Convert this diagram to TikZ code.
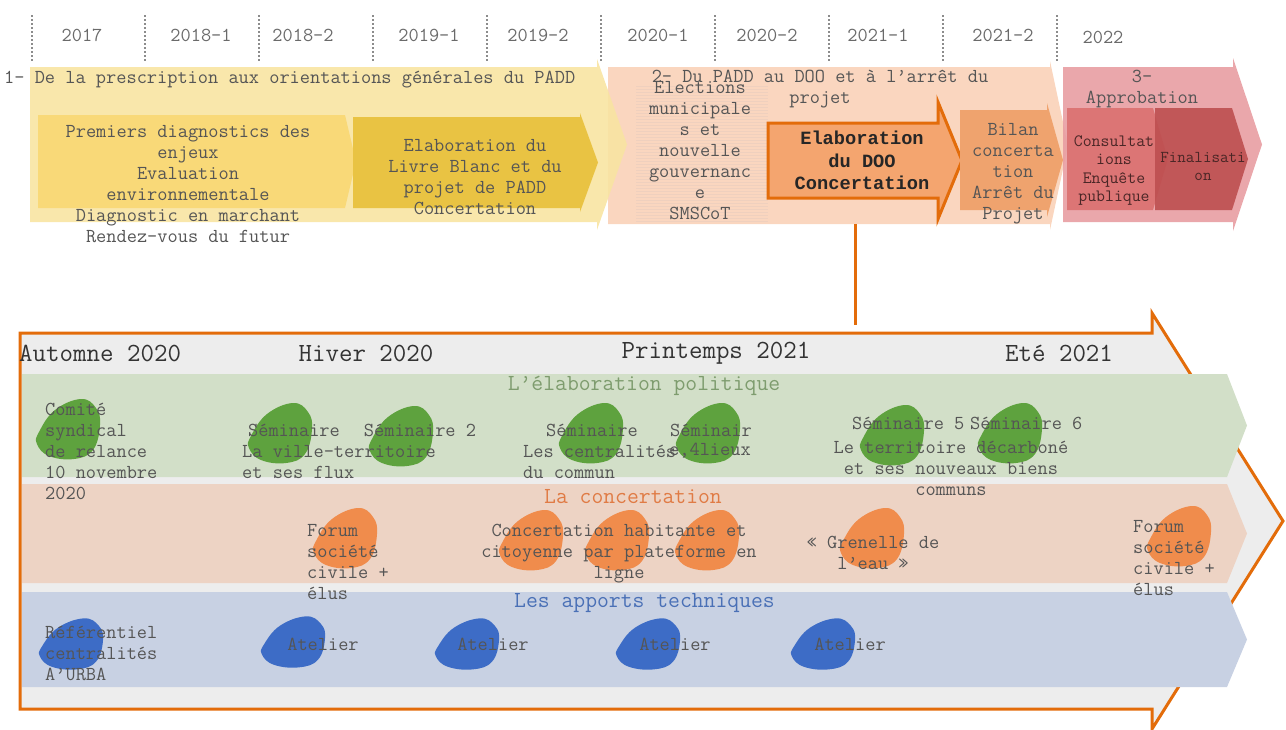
\documentclass[tikz,border=0pt]{standalone}
\usepackage{fontspec}
\renewcommand{\familydefault}{\ttdefault}
\newfontfamily\doofont{Liberation Mono}
\usetikzlibrary{positioning}

\definecolor{tickgray}{HTML}{8C8C8C}
\definecolor{yeargray}{HTML}{6A6A6A}
\definecolor{txtgray}{HTML}{555555}
\definecolor{redtxt}{HTML}{4A2626}
\definecolor{seasontxt}{HTML}{333333}
\definecolor{phaseone}{HTML}{F8E4A2}
\definecolor{phasetwo}{HTML}{FAD6BF}
\definecolor{phasethree}{HTML}{E89DA2}
\definecolor{diagyellow}{HTML}{F9D978}
\definecolor{livregold}{HTML}{E9C343}
\definecolor{dooorange}{HTML}{E36C0A}
\definecolor{doofill}{HTML}{F4A56F}
\definecolor{bilanfill}{HTML}{EFA36E}
\definecolor{consultred}{HTML}{D96D6C}
\definecolor{finalred}{HTML}{BE4F50}
\definecolor{stripecol}{HTML}{EFD0BE}
\definecolor{panelgray}{HTML}{EDEDED}
\definecolor{bandgreen}{HTML}{D2DFC8}
\definecolor{bandorange}{HTML}{EDD3C4}
\definecolor{bandblue}{HTML}{C8D1E3}
\definecolor{blobgreen}{HTML}{5EA23E}
\definecolor{bloborange}{HTML}{F08C4C}
\definecolor{blobblue}{HTML}{3D6CC6}
\definecolor{titlegreen}{HTML}{7E9C6E}
\definecolor{titleorange}{HTML}{E07B45}
\definecolor{titleblue}{HTML}{4A70B6}

% chevron: [style]{left}{top}{right}{bottom}{head extension}{tip}
\newcommand{\phasechevron}[7][]{%
  \path[#1] (#2,#3) -- (#4,#3) -- (#4,#3-#6) -- (#7,{(#3+#5)/2})
    -- (#4,#5+#6) -- (#4,#5) -- (#2,#5) -- cycle;}

% blob: {x}{y}{colour}{yscale}
\newcommand{\blob}[4]{%
  \fill[#3, shift={(#1,#2)}, yscale=#4] plot[smooth cycle, tension=0.7]
    coordinates {(12,-29) (27,-20) (31,-3) (24,22) (5,31) (-20,28) (-32,16) (-30,4) (-14,-18)};}

\begin{document}
\begin{tikzpicture}[x=1pt,y=-1pt,
  yearlbl/.style={font=\fontsize{19.8}{21}\selectfont, text=yeargray, inner sep=0pt},
  body/.style={font=\fontsize{19.8}{21}\selectfont, text=txtgray, inner sep=0pt, align=center},
  bodyl/.style={body, align=left},
  small/.style={body, font=\fontsize{17.3}{18.5}\selectfont, text=redtxt},
  season/.style={font=\fontsize{26.2}{27}\selectfont, text=seasontxt, inner sep=0pt},
  bandtitle/.style={font=\fontsize{23}{24}\selectfont, inner sep=0pt},
  tick/.style={draw=tickgray, dotted, line width=2pt},
  stripe/.style={draw=stripecol, line width=0.5pt},
  link/.style={draw=dooorange, line width=3pt},
]
\useasboundingbox (0,0) rectangle (1286,729);

% year ticks and labels
\foreach \x in {32,145,259,373,487,601,715,829,943,1057}
  \draw[tick] (\x,15) -- (\x,62);
\foreach[count=\i] \lbl/\x in {2017/82,2018-1/201,2018-2/303,2019-1/429,2019-2/538,2020-1/658,2020-2/767,2021-1/878,2021-2/1003}
  \node[yearlbl] (year\i) at (\x,35) {\lbl};
\node[yearlbl] (year10) at (1103,37) {2022};

% the three phases
\phasechevron[fill=phasetwo]{608}{67}{1050}{224}{6}{1068}
\phasechevron[fill=phaseone, opacity=0.9]{30}{67}{597}{222}{8}{627}
\phasechevron[fill=phasethree, opacity=0.9]{1063}{67}{1233}{222}{9}{1262}

% steps inside the phases
\phasechevron[fill=diagyellow]{38}{115}{345}{208}{0}{356}
\phasechevron[fill=livregold]{353}{117}{580}{208}{4}{598}
\foreach \y in {86,89,...,221}
  \draw[stripe] (636,\y) -- (768,\y);
\phasechevron[fill=doofill, draw=dooorange, line width=3pt]{768}{123}{938}{198}{21}{962}
\phasechevron[fill=bilanfill]{960}{110}{1047}{210}{7}{1063}
\phasechevron[fill=consultred, opacity=0.85]{1067}{108}{1153}{210}{0}{1168}
\phasechevron[fill=finalred, opacity=0.9]{1155}{108}{1232}{210}{0}{1248}

\node[body, anchor=west] (phase1) at (4,80) {1- De la prescription aux orientations générales du PADD};
\node[body] (phase2) at (820,89) {2- Du PADD au DOO et à l’arrêt du\\projet};
\node[body] (phase3) at (1142,89) {3-\\Approbation};
\node[body] (diag) at (188,184.5) {Premiers diagnostics des\\enjeux\\Evaluation\\environnementale\\Diagnostic en marchant\\Rendez-vous du futur};
\node[body] (livre) at (475,177) {Elaboration du\\Livre Blanc et du\\projet de PADD\\Concertation};
\node[body] (elect) at (700,151) {Elections\\municipale\\s et\\nouvelle\\gouvernanc\\e\\SMSCoT};
\node[body, font=\doofont\bfseries\fontsize{18.7}{22.5}\selectfont, text=black!85] (doo) at (862,160.5) {Elaboration\\du DOO\\Concertation};
\node[body] (bilan) at (1013,173.5) {Bilan\\concerta\\tion\\Arrêt du\\Projet};
\node[small] (consult) at (1114,170.5) {Consultat\\ions\\Enquête\\publique};
\node[small, font=\fontsize{16.6}{18}\selectfont] (final) at (1203,166) {Finalisati\\on};

% zoom on the DOO step
\phasechevron[fill=panelgray, draw=dooorange, line width=3pt]{20}{333}{1152}{709}{20}{1283}
\phasechevron[fill=bandgreen]{22}{374}{1227}{477}{0}{1247}
\phasechevron[fill=bandorange]{22}{484}{1227}{583}{0}{1247}
\phasechevron[fill=bandblue]{22}{592}{1227}{687}{0}{1247}

\coordinate (dooout) at (855,224);
\coordinate (panelin) at (855,325);
\draw[link] (dooout) -- (panelin);

\node[season, anchor=west] (autumn) at (19,353) {Automne 2020};
\node[season] (winter) at (366,353) {Hiver 2020};
\node[season] (spring) at (716,353) {Printemps 2021};
\node[season] (summer) at (1059,353) {Eté 2021};

\node[bandtitle, text=titlegreen] (politic) at (644,386) {L’élaboration politique};
\node[bandtitle, text=titleorange] (concert) at (633,497) {La concertation};
\node[bandtitle, text=titleblue] (techn) at (644.5,603) {Les apports techniques};

% blobs
\foreach \x/\y in {69/428,281/432,402/435,592/432,709/432,893/434,1011/432}
  \blob{\x}{\y}{blobgreen}{1};
\foreach \x/\y in {346/537,532/539,618/539,708/539,873/537,1180/535}
  \blob{\x}{\y}{bloborange}{1};
\foreach \x/\y in {72/643,294/641,468/643,649/643,824/643}
  \blob{\x}{\y}{blobblue}{0.85};

% political track
\node[bodyl, anchor=west] (comite) at (45,451) {Comité\\syndical\\de relance\\10 novembre\\2020};
\node[body] (sem1) at (294,430) {Séminaire};
\node[bodyl, anchor=west] (sem1t) at (242,462.5) {La ville-territoire\\et ses flux};
\node[body] (sem2) at (420,430) {Séminaire 2};
\node[body] (sem3) at (592,430) {Séminaire};
\node[bodyl, anchor=west] (sem3t) at (523,461.5) {Les centralités\\du commun};
\node[body, anchor=west] (sem4) at (670,430) {Séminair};
\node[body, anchor=west] (sem4t) at (669,451) {e,4lieux};
\node[body, anchor=west] (sem5) at (852,423) {Séminaire 5};
\node[body, anchor=west] (sem6) at (970,423) {Séminaire 6};
\node[body] (sem5t) at (951,468) {Le territoire décarboné\\et ses nouveaux biens\\communs};

% consultation track
\node[bodyl, anchor=west] (forum1) at (307,562.5) {Forum\\société\\civile +\\élus};
\node[body] (online) at (619,553.5) {Concertation habitante et\\citoyenne par plateforme en\\ligne};
\node[body] (grenelle) at (873,553) {« Grenelle de\\l’eau »};
\node[bodyl, anchor=west] (forum2) at (1133,558.5) {Forum\\société\\civile +\\élus};

% technical track
\node[bodyl, anchor=west] (refer) at (45,653) {Référentiel\\centralités\\A’URBA};
\foreach[count=\i] \x in {323,493,675,850}
  \node[body] (atelier\i) at (\x,644) {Atelier};

\end{tikzpicture}
\end{document}
